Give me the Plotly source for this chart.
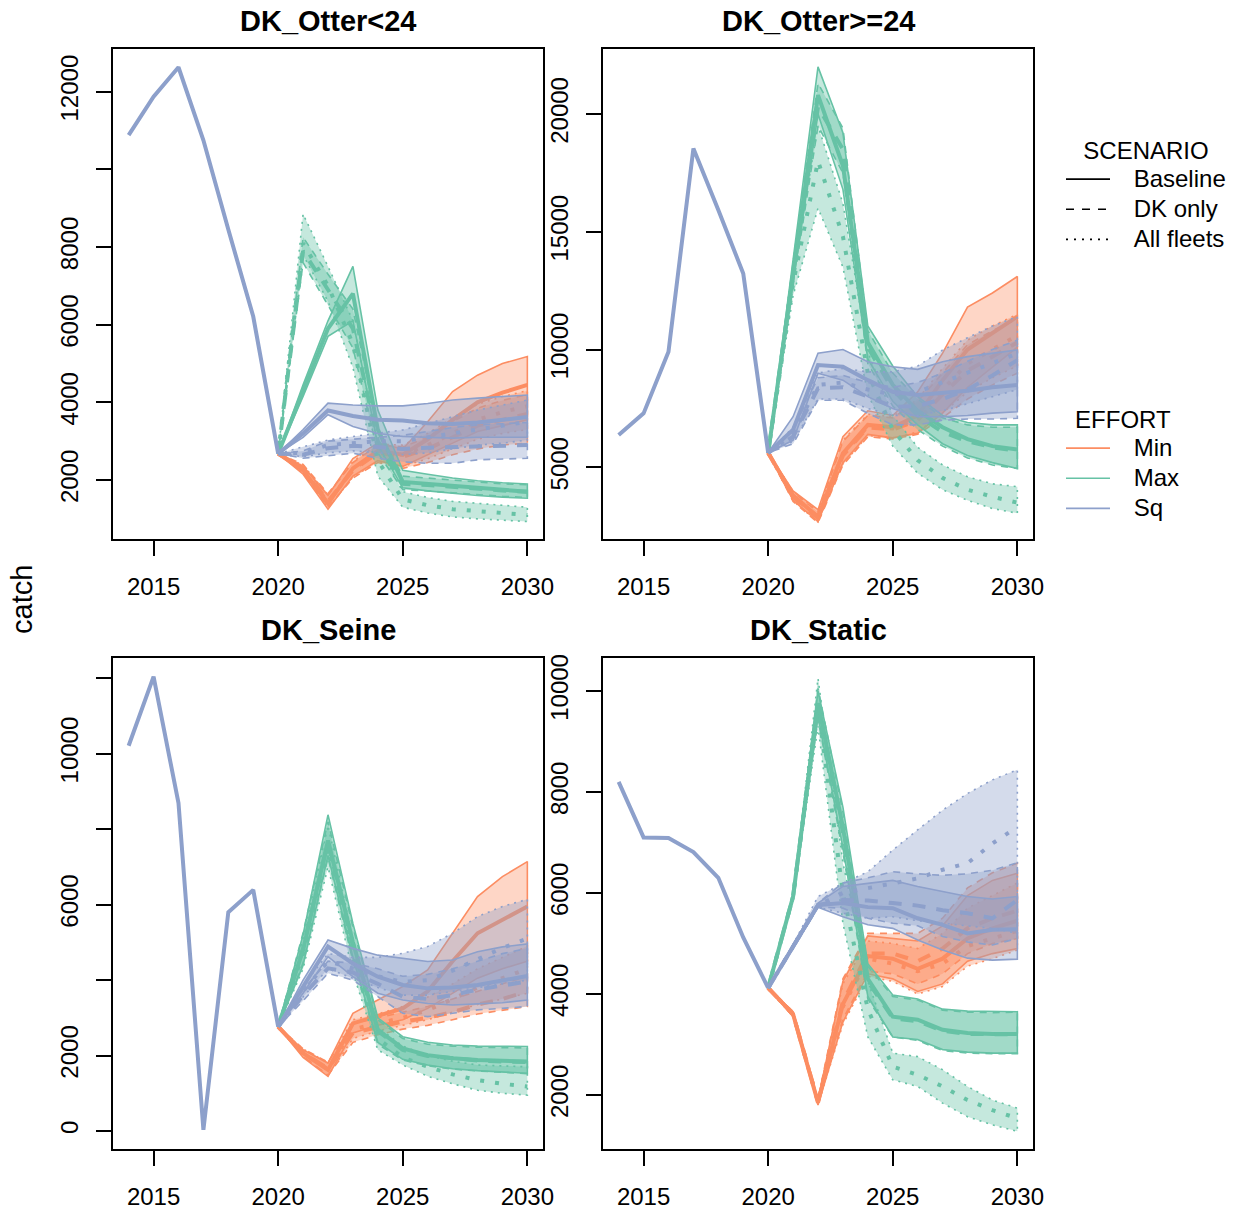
import plotly.graph_objects as go

# ---------------- data ----------------
YEARS_HIST = [2014, 2015, 2016, 2017, 2018, 2019, 2020]
YEARS_PROJ = [2020, 2021, 2022, 2023, 2024, 2025, 2026, 2027, 2028, 2029, 2030]
FLEETS = ["DK_Otter<24", "DK_Otter>=24", "DK_Seine", "DK_Static"]
SCENARIOS = ["Baseline", "DK only", "All fleets"]
EFFORTS = ["Min", "Max", "Sq"]

HIST_OTTER_LT24 = [10880, 11870, 12630, 10750, 8450, 6210, 2680]
HIST_OTTER_GE24 = [6370, 7290, 9910, 18540, 15920, 13230, 5620]
HIST_SEINE = [10210, 12040, 8690, 30, 5800, 6390, 2765]
HIST_STATIC = [8200, 7100, 7090, 6810, 6300, 5120, 4120]

# rows: Baseline, DK only, All fleets ; columns: 2020..2030
# ---- DK_Otter<24 ----
OTLT_MIN_MED = [[2680, 2250, 1400, 2300, 2750, 2650, 3050, 3550, 4000, 4250, 4450],
                [2680, 2300, 1450, 2250, 2700, 2600, 2800, 3100, 3400, 3550, 3700],
                [2680, 2280, 1420, 2280, 2720, 2650, 2900, 3200, 3550, 3750, 3900]]
OTLT_MIN_LO = [[2680, 2150, 1250, 2100, 2500, 2350, 2650, 2950, 3250, 3400, 3550],
               [2680, 2200, 1300, 2050, 2450, 2300, 2450, 2650, 2800, 2900, 2950],
               [2680, 2180, 1280, 2080, 2470, 2350, 2550, 2800, 3050, 3200, 3300]]
OTLT_MIN_HI = [[2680, 2350, 1600, 2550, 2950, 2800, 3500, 4280, 4700, 5000, 5180],
               [2680, 2400, 1650, 2450, 2900, 2850, 3100, 3500, 3850, 4050, 4200],
               [2680, 2380, 1620, 2480, 2920, 2900, 3200, 3600, 3950, 4150, 4300]]
OTLT_MAX_MED = [[2680, 4300, 5900, 6800, 3300, 1950, 1900, 1850, 1780, 1730, 1700],
                [2680, 7900, 6900, 5900, 3000, 1900, 1870, 1820, 1770, 1730, 1700],
                [2680, 8100, 7000, 5500, 2500, 1500, 1350, 1250, 1200, 1150, 1100]]
OTLT_MAX_LO = [[2680, 4150, 5700, 6100, 2900, 1800, 1720, 1660, 1600, 1560, 1530],
               [2680, 7600, 6500, 5400, 2700, 1750, 1720, 1670, 1620, 1580, 1550],
               [2680, 7800, 6600, 4900, 2100, 1300, 1150, 1050, 1000, 960, 930]]
OTLT_MAX_HI = [[2680, 4450, 6100, 7500, 3800, 2250, 2150, 2050, 1980, 1930, 1900],
               [2680, 8250, 7300, 6400, 3300, 2100, 2050, 2000, 1950, 1900, 1880],
               [2680, 8850, 7500, 6100, 2900, 1700, 1550, 1450, 1400, 1350, 1300]]
OTLT_SQ_MED = [[2680, 3200, 3790, 3650, 3550, 3530, 3460, 3440, 3480, 3550, 3620],
               [2680, 2650, 2820, 2880, 2850, 2800, 2830, 2850, 2870, 2890, 2900],
               [2680, 2700, 2900, 2950, 3000, 3000, 3100, 3200, 3300, 3400, 3500]]
OTLT_SQ_LO = [[2680, 3100, 3680, 3380, 3200, 3120, 3100, 3080, 3100, 3100, 3100],
              [2680, 2560, 2620, 2690, 2560, 2470, 2430, 2430, 2520, 2540, 2560],
              [2680, 2600, 2700, 2750, 2700, 2650, 2700, 2800, 2900, 2950, 3030]]
OTLT_SQ_HI = [[2680, 3300, 3980, 3930, 3910, 3910, 3970, 4060, 4110, 4150, 4190],
              [2680, 2750, 3000, 3050, 3100, 3150, 3250, 3350, 3420, 3450, 3480],
              [2680, 2860, 3030, 3120, 3200, 3290, 3460, 3630, 3800, 3930, 4060]]

# ---- DK_Otter>=24 ----
OTGE_MIN_MED = [[5620, 3800, 2900, 5600, 6800, 6700, 7200, 8700, 10000, 10700, 11400],
                [5620, 3750, 2850, 5500, 6700, 6600, 7000, 8100, 9100, 9700, 10300],
                [5620, 3780, 2880, 5550, 6750, 6650, 7100, 8300, 9400, 10000, 10600]]
OTGE_MIN_LO = [[5620, 3600, 2700, 5200, 6400, 6250, 6450, 7300, 8400, 9250, 10100],
               [5620, 3550, 2650, 5100, 6300, 6200, 6400, 7100, 7900, 8500, 9000],
               [5620, 3580, 2680, 5150, 6350, 6250, 6500, 7300, 8200, 8800, 9300]]
OTGE_MIN_HI = [[5620, 4000, 3200, 6300, 7400, 7200, 8200, 9850, 11800, 12400, 13100],
               [5620, 3950, 3100, 6100, 7200, 7100, 7800, 9000, 10200, 10800, 11300],
               [5620, 3980, 3150, 6150, 7250, 7150, 7900, 9200, 10400, 11000, 11500]]
OTGE_MAX_MED = [[5620, 13300, 20800, 17800, 10300, 8500, 7400, 6700, 6200, 5900, 5760],
                [5620, 13200, 20300, 18500, 10100, 8300, 7200, 6500, 6100, 5850, 5700],
                [5620, 12800, 18000, 14800, 9000, 6600, 5300, 4550, 4050, 3750, 3500]]
OTGE_MAX_LO = [[5620, 12800, 20000, 16800, 9600, 7800, 6800, 6000, 5500, 5200, 4950],
               [5620, 12700, 19500, 17500, 9400, 7600, 6600, 5900, 5400, 5100, 4950],
               [5620, 12300, 16000, 13500, 8100, 5900, 4750, 4050, 3600, 3250, 3050]]
OTGE_MAX_HI = [[5620, 13800, 22000, 19200, 11000, 9300, 8000, 7200, 6900, 6800, 6800],
               [5620, 13700, 21300, 19400, 10800, 9000, 7900, 7100, 6800, 6700, 6700],
               [5620, 13300, 19500, 16200, 9900, 7200, 5850, 5100, 4600, 4300, 4180]]
OTGE_SQ_MED = [[5620, 6600, 9340, 9270, 8700, 8210, 8070, 8140, 8250, 8400, 8490],
               [5620, 6300, 8350, 8400, 8000, 7570, 7600, 7900, 8300, 8900, 9550],
               [5620, 6400, 8500, 8600, 8300, 8100, 8200, 8600, 9000, 9400, 9830]]
OTGE_SQ_LO = [[5620, 6150, 8990, 8700, 8000, 7500, 7150, 7150, 7200, 7300, 7360],
              [5620, 6000, 7850, 7850, 7290, 6800, 6800, 7000, 7050, 7050, 7080],
              [5620, 6100, 7900, 7900, 7500, 7200, 7200, 7400, 7700, 8000, 8300]]
OTGE_SQ_HI = [[5620, 7150, 9840, 10000, 9480, 9270, 9160, 9480, 9700, 9830, 9980],
              [5620, 6600, 8800, 8900, 8600, 8400, 8600, 9000, 9500, 10000, 10400],
              [5620, 6700, 9000, 9200, 9050, 9050, 9300, 9980, 10500, 11000, 11400]]

# ---- DK_Seine ----
SEIN_MIN_MED = [[2765, 2060, 1620, 2850, 3050, 3250, 3700, 4500, 5240, 5600, 5950],
                [2765, 2080, 1650, 2600, 2750, 2900, 3000, 3150, 3350, 3500, 3700],
                [2765, 2070, 1640, 2700, 2850, 3000, 3200, 3500, 3800, 4050, 4300]]
SEIN_MIN_LO = [[2765, 1950, 1450, 2600, 2800, 2950, 3250, 3650, 4050, 4300, 4500],
               [2765, 1980, 1480, 2350, 2550, 2700, 2800, 2950, 3100, 3200, 3300],
               [2765, 1970, 1470, 2450, 2650, 2800, 2950, 3150, 3350, 3500, 3650]]
SEIN_MIN_HI = [[2765, 2150, 1800, 3120, 3470, 3830, 4270, 5240, 6210, 6740, 7140],
               [2765, 2180, 1820, 2850, 3000, 3150, 3300, 3500, 3700, 3900, 4100],
               [2765, 2170, 1810, 2950, 3100, 3300, 3550, 3900, 4300, 4600, 4900]]
SEIN_MAX_MED = [[2765, 4800, 7700, 5000, 2680, 2190, 2010, 1930, 1880, 1850, 1840],
                [2765, 4850, 7650, 4900, 2650, 2150, 1990, 1920, 1870, 1840, 1830],
                [2765, 4700, 7500, 4600, 2450, 1950, 1700, 1500, 1350, 1250, 1180]]
SEIN_MAX_LO = [[2765, 4400, 7300, 4600, 2350, 1900, 1750, 1650, 1600, 1560, 1530],
               [2765, 4450, 7250, 4500, 2300, 1880, 1730, 1640, 1590, 1550, 1520],
               [2765, 4300, 7000, 4200, 2150, 1750, 1450, 1250, 1080, 1000, 950]]
SEIN_MAX_HI = [[2765, 5200, 8380, 5500, 3000, 2500, 2350, 2280, 2250, 2240, 2240],
               [2765, 5250, 8200, 5400, 2950, 2450, 2300, 2250, 2220, 2210, 2200],
               [2765, 5100, 8100, 5100, 2750, 2250, 2000, 1850, 1750, 1720, 1700]]
SEIN_SQ_MED = [[2765, 3830, 4890, 4440, 4090, 3870, 3780, 3800, 3870, 3990, 4110],
               [2765, 3600, 4310, 4200, 3900, 3560, 3500, 3600, 3750, 3850, 3960],
               [2765, 3700, 4500, 4300, 4100, 3950, 4000, 4250, 4550, 4850, 5100]]
SEIN_SQ_LO = [[2765, 3650, 4620, 4090, 3650, 3470, 3380, 3340, 3370, 3400, 3470],
              [2765, 3450, 4180, 4000, 3560, 3120, 3030, 3120, 3210, 3250, 3300],
              [2765, 3550, 4300, 4050, 3800, 3600, 3600, 3700, 3800, 3900, 4000]]
SEIN_SQ_HI = [[2765, 4000, 5060, 4840, 4660, 4580, 4490, 4530, 4750, 4880, 4960],
              [2765, 3750, 4500, 4450, 4300, 4100, 4150, 4300, 4500, 4700, 4840],
              [2765, 3850, 4700, 4600, 4600, 4710, 4890, 5240, 5680, 5950, 6140]]

# ---- DK_Static ----
STAT_MIN_MED = [[4120, 3600, 1850, 3800, 4750, 4700, 4500, 4700, 5100, 5300, 5450],
                [4120, 3600, 1870, 3850, 4800, 4800, 4650, 4900, 5300, 5500, 5650],
                [4120, 3600, 1860, 3750, 4700, 4600, 4450, 4600, 4950, 5100, 5250]]
STAT_MIN_LO = [[4120, 3550, 1800, 3450, 4400, 4300, 4050, 4200, 4650, 4800, 4900],
               [4120, 3550, 1820, 3500, 4450, 4400, 4200, 4400, 4800, 5000, 5100],
               [4120, 3550, 1810, 3400, 4350, 4250, 4000, 4150, 4550, 4700, 4870]]
STAT_MIN_HI = [[4120, 3650, 1900, 4250, 5150, 5100, 5050, 5350, 5950, 6250, 6390],
               [4120, 3650, 1920, 4300, 5200, 5200, 5200, 5500, 6100, 6400, 6590],
               [4120, 3650, 1910, 4200, 5050, 5000, 4900, 5200, 5700, 5950, 6200]]
STAT_MAX_MED = [[4120, 5930, 9760, 7300, 4300, 3550, 3490, 3290, 3230, 3210, 3210],
                [4120, 5930, 9750, 7200, 4250, 3520, 3460, 3270, 3210, 3200, 3200],
                [4120, 5930, 9700, 6000, 3700, 2560, 2400, 2170, 1900, 1700, 1540]]
STAT_MAX_LO = [[4120, 5900, 9500, 6900, 3950, 3150, 3100, 2900, 2850, 2830, 2830],
               [4120, 5900, 9450, 6800, 3900, 3150, 3080, 2880, 2830, 2820, 2820],
               [4120, 5900, 9300, 5400, 3150, 2300, 2170, 1840, 1570, 1410, 1280]]
STAT_MAX_HI = [[4120, 5960, 10000, 7700, 4600, 3980, 3900, 3700, 3660, 3650, 3650],
               [4120, 5960, 10050, 7600, 4550, 3950, 3880, 3680, 3640, 3630, 3640],
               [4120, 5960, 10250, 6600, 4250, 2830, 2760, 2500, 2170, 1900, 1740]]
STAT_SQ_MED = [[4120, 4940, 5760, 5800, 5720, 5700, 5500, 5370, 5200, 5270, 5280],
               [4120, 4940, 5760, 5860, 5850, 5800, 5750, 5660, 5600, 5500, 5860],
               [4120, 4940, 5760, 6000, 6090, 6190, 6290, 6460, 6590, 6980, 7310]]
STAT_SQ_LO = [[4120, 4900, 5720, 5530, 5370, 5300, 5070, 4870, 4710, 4670, 4690],
              [4120, 4900, 5720, 5700, 5500, 5400, 5350, 5140, 5030, 4970, 5100],
              [4120, 4900, 5720, 5600, 5500, 5530, 5450, 5400, 5350, 5300, 5200]]
STAT_SQ_HI = [[4120, 4980, 5800, 6130, 6190, 6250, 6130, 6030, 5930, 5880, 5930],
              [4120, 4980, 5800, 6200, 6300, 6420, 6380, 6350, 6380, 6450, 6600],
              [4120, 4980, 5930, 6190, 6420, 6850, 7250, 7640, 7970, 8240, 8440]]

# axis ticks per panel
Y_TICKVALS = [[2000, 4000, 6000, 8000, 10000, 12000],
              [5000, 10000, 15000, 20000],
              [0, 2000, 4000, 6000, 8000, 10000, 12000],
              [2000, 4000, 6000, 8000, 10000]]
Y_TICKTEXT = [["2000", "4000", "6000", "8000", "", "12000"],
              ["5000", "10000", "15000", "20000"],
              ["0", "2000", "", "6000", "", "10000", ""],
              ["2000", "4000", "6000", "8000", "10000"]]
Y_RANGES = [[481, 13092], [1957, 22746], [-477, 12527], [931, 10647]]
X_TICKVALS = [2015, 2020, 2025, 2030]

# ---------------- assembly ----------------
HIST = [HIST_OTTER_LT24, HIST_OTTER_GE24, HIST_SEINE, HIST_STATIC]
SERIES = [
    {"Min": (OTLT_MIN_MED, OTLT_MIN_LO, OTLT_MIN_HI), "Max": (OTLT_MAX_MED, OTLT_MAX_LO, OTLT_MAX_HI),
     "Sq": (OTLT_SQ_MED, OTLT_SQ_LO, OTLT_SQ_HI)},
    {"Min": (OTGE_MIN_MED, OTGE_MIN_LO, OTGE_MIN_HI), "Max": (OTGE_MAX_MED, OTGE_MAX_LO, OTGE_MAX_HI),
     "Sq": (OTGE_SQ_MED, OTGE_SQ_LO, OTGE_SQ_HI)},
    {"Min": (SEIN_MIN_MED, SEIN_MIN_LO, SEIN_MIN_HI), "Max": (SEIN_MAX_MED, SEIN_MAX_LO, SEIN_MAX_HI),
     "Sq": (SEIN_SQ_MED, SEIN_SQ_LO, SEIN_SQ_HI)},
    {"Min": (STAT_MIN_MED, STAT_MIN_LO, STAT_MIN_HI), "Max": (STAT_MAX_MED, STAT_MAX_LO, STAT_MAX_HI),
     "Sq": (STAT_SQ_MED, STAT_SQ_LO, STAT_SQ_HI)},
]

COLORS = {"Min": "#FC8D62", "Max": "#66C2A5", "Sq": "#8DA0CB"}
FILLS = {"Min": "rgba(252,141,98,0.36)", "Max": "rgba(102,194,165,0.38)", "Sq": "rgba(141,160,203,0.38)"}
DASH_MED = {"Baseline": "solid", "DK only": "13px,11px", "All fleets": "4px,11px"}
DASH_EDGE = {"Baseline": "solid", "DK only": "7px,6px", "All fleets": "2px,5px"}
DASH_LEG = {"Baseline": "solid", "DK only": "8px,8px", "All fleets": "2px,6px"}

FONT = "Liberation Sans, Arial, Helvetica, sans-serif"
W, H = 1239, 1212

# panel boxes in pixels (left, right, top, bottom)
BOXES = [(112.7, 543.3, 49.3, 539.0), (602.7, 1033.3, 49.3, 539.0),
         (112.7, 543.3, 658.3, 1149.0), (602.7, 1033.3, 658.3, 1149.0)]

fig = go.Figure()

for i, fleet in enumerate(FLEETS):
    sfx = "" if i == 0 else str(i + 1)
    xa, ya = "x" + sfx, "y" + sfx
    for effort in EFFORTS:
        med, lo, hi = SERIES[i][effort]
        for s, scen in enumerate(SCENARIOS):
            fig.add_trace(go.Scatter(
                x=YEARS_PROJ + YEARS_PROJ[::-1], y=hi[s] + lo[s][::-1],
                mode="lines", fill="toself", fillcolor=FILLS[effort],
                line=dict(color=COLORS[effort], width=1.6, dash=DASH_EDGE[scen]),
                xaxis=xa, yaxis=ya, showlegend=False, hoverinfo="skip"))
            fig.add_trace(go.Scatter(
                x=YEARS_PROJ, y=med[s], mode="lines",
                line=dict(color=COLORS[effort], width=4, dash=DASH_MED[scen]),
                xaxis=xa, yaxis=ya, showlegend=False,
                name=f"{fleet} {effort} {scen}"))
    fig.add_trace(go.Scatter(
        x=YEARS_HIST, y=HIST[i], mode="lines",
        line=dict(color=COLORS["Sq"], width=4),
        xaxis=xa, yaxis=ya, showlegend=False, name=f"{fleet} history"))

# legend entries (text kept at 24px, row pitch set by the smaller legend font)
PAD = "\u2002\u00a0"


def leg_name(t):
    return '<span style="font-size:24px">' + PAD + t + "</span>"


for scen in SCENARIOS:
    fig.add_trace(go.Scatter(x=[None], y=[None], mode="lines", name=leg_name(scen),
                             line=dict(color="black", width=1.7, dash=DASH_LEG[scen]),
                             legend="legend", showlegend=True))
for effort in EFFORTS:
    fig.add_trace(go.Scatter(x=[None], y=[None], mode="lines", name=leg_name(effort),
                             line=dict(color=COLORS[effort], width=1.7),
                             legend="legend2", showlegend=True))

layout = dict(
    width=W, height=H, margin=dict(l=0, r=0, t=0, b=0, autoexpand=False), autosize=False,
    paper_bgcolor="white", plot_bgcolor="white",
    font=dict(family=FONT, size=24, color="black"),
    hovermode=False,
)

axis_common = dict(showgrid=False, zeroline=False, showline=True, mirror=True, automargin=False,
                   linecolor="black", linewidth=1.8, ticks="outside", ticklen=15,
                   tickwidth=1.8, tickcolor="black",
                   tickfont=dict(family=FONT, size=24, color="black"))

annotations = []
for i, (l, r, t, b) in enumerate(BOXES):
    sfx = "" if i == 0 else str(i + 1)
    layout["xaxis" + sfx] = dict(axis_common, domain=[l / W, r / W],
                                 range=[2013.36, 2030.64], tickvals=X_TICKVALS,
                                 anchor="y" + sfx, ticklabelstandoff=10)
    layout["yaxis" + sfx] = dict(axis_common, domain=[1 - b / H, 1 - t / H],
                                 range=Y_RANGES[i], tickvals=Y_TICKVALS[i],
                                 ticktext=Y_TICKTEXT[i], tickangle=-90,
                                 anchor="x" + sfx, ticklabelstandoff=8)
    annotations.append(dict(
        text="<b>" + FLEETS[i].replace("<", "&lt;").replace(">", "&gt;") + "</b>",
        x=(l + r) / 2 / W, y=1 - (t - 28) / H, xref="paper", yref="paper",
        xanchor="center", yanchor="middle", showarrow=False,
        font=dict(family=FONT, size=29, color="black")))

annotations.append(dict(text="catch", x=22 / W, y=1 - 600 / H, xref="paper", yref="paper",
                        xanchor="center", yanchor="middle", textangle=-90, showarrow=False,
                        font=dict(family=FONT, size=29, color="black")))
layout["annotations"] = annotations

legend_common = dict(xanchor="left", yanchor="top", bgcolor="rgba(0,0,0,0)",
                     borderwidth=0, itemwidth=44, itemclick=False, itemdoubleclick=False,
                     font=dict(family=FONT, size=20.8, color="black"))
layout["legend"] = dict(legend_common, x=1061 / W, y=1 - 128 / H,
                        title=dict(text="SCENARIO", side="top center",
                                   font=dict(family=FONT, size=24, color="black")))
layout["legend2"] = dict(legend_common, x=1061 / W, y=1 - 397 / H,
                         title=dict(text="EFFORT", side="top center",
                                    font=dict(family=FONT, size=24, color="black")))

fig.update_layout(**layout)
fig.write_html("out.html")
